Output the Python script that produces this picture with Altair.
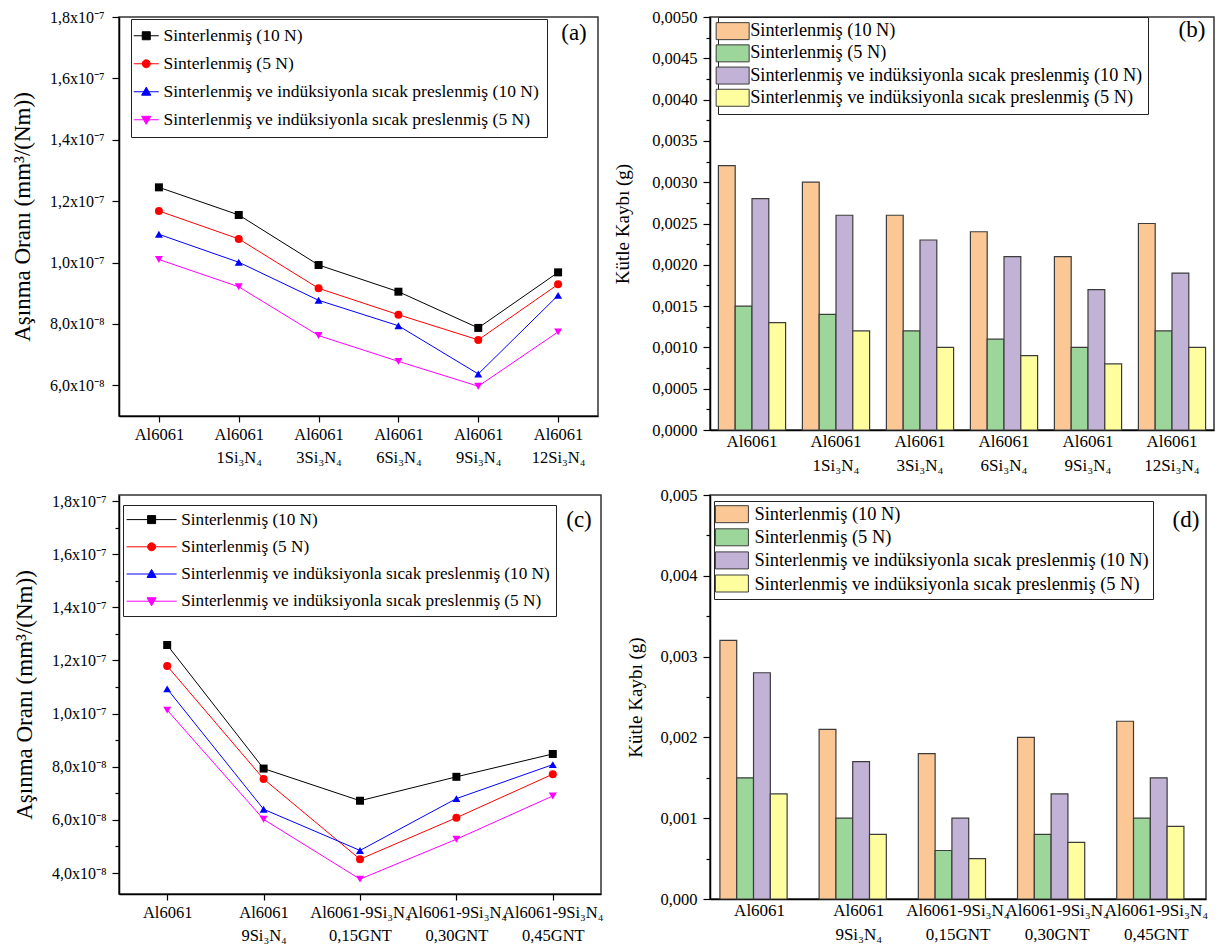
import altair as alt
import pandas as pd

FONT = "Liberation Serif"

SERIES = [
    "Sinterlenmiş (10 N)",
    "Sinterlenmiş (5 N)",
    "Sinterlenmiş ve indüksiyonla sıcak preslenmiş (10 N)",
    "Sinterlenmiş ve indüksiyonla sıcak preslenmiş (5 N)",
]
LINE_COLORS = ["#000000", "#FF0000", "#0000FF", "#FF00FF"]
LINE_SHAPES = ["square", "circle", "triangle-up", "triangle-down"]
BAR_COLORS = ["#FBC794", "#9DD69A", "#C2B2D6", "#FFFE9E"]

CATS_AB = ["Al6061", "Al6061|1Si₃N₄", "Al6061|3Si₃N₄", "Al6061|6Si₃N₄", "Al6061|9Si₃N₄", "Al6061|12Si₃N₄"]
CATS_CD = ["Al6061", "Al6061|9Si₃N₄", "Al6061-9Si₃N₄|0,15GNT", "Al6061-9Si₃N₄|0,30GNT", "Al6061-9Si₃N₄|0,45GNT"]

# (a) wear rate, mm3/(Nm)
A_SINT_10 = [1.245e-7, 1.155e-7, 0.992e-7, 0.905e-7, 0.787e-7, 0.968e-7]
A_SINT_5 = [1.168e-7, 1.077e-7, 0.916e-7, 0.830e-7, 0.748e-7, 0.929e-7]
A_HP_10 = [1.092e-7, 1.001e-7, 0.877e-7, 0.794e-7, 0.637e-7, 0.893e-7]
A_HP_5 = [1.010e-7, 0.921e-7, 0.762e-7, 0.678e-7, 0.597e-7, 0.774e-7]

# (b) mass loss, g
B_SINT_10 = [0.0032, 0.0030, 0.0026, 0.0024, 0.0021, 0.0025]
B_SINT_5 = [0.0015, 0.0014, 0.0012, 0.0011, 0.0010, 0.0012]
B_HP_10 = [0.0028, 0.0026, 0.0023, 0.0021, 0.0017, 0.0019]
B_HP_5 = [0.0013, 0.0012, 0.0010, 0.0009, 0.0008, 0.0010]

# (c) wear rate, mm3/(Nm)
C_SINT_10 = [1.258e-7, 0.793e-7, 0.672e-7, 0.762e-7, 0.848e-7]
C_SINT_5 = [1.179e-7, 0.754e-7, 0.452e-7, 0.608e-7, 0.772e-7]
C_HP_10 = [1.093e-7, 0.640e-7, 0.485e-7, 0.680e-7, 0.808e-7]
C_HP_5 = [1.013e-7, 0.602e-7, 0.377e-7, 0.527e-7, 0.690e-7]

# (d) mass loss, g
D_SINT_10 = [0.0032, 0.0021, 0.0018, 0.0020, 0.0022]
D_SINT_5 = [0.0015, 0.0010, 0.0006, 0.0008, 0.0010]
D_HP_10 = [0.0028, 0.0017, 0.0010, 0.0013, 0.0015]
D_HP_5 = [0.0013, 0.0008, 0.0005, 0.0007, 0.0009]

A_TICKS = [6e-8, 8e-8, 1.0e-7, 1.2e-7, 1.4e-7, 1.6e-7, 1.8e-7]
A_TICK_LABELS = ["6,0x10⁻⁸", "8,0x10⁻⁸", "1,0x10⁻⁷", "1,2x10⁻⁷", "1,4x10⁻⁷", "1,6x10⁻⁷", "1,8x10⁻⁷"]

C_TICKS = [4e-8, 5e-8, 6e-8, 7e-8, 8e-8, 9e-8, 1.0e-7, 1.1e-7, 1.2e-7, 1.3e-7, 1.4e-7, 1.5e-7, 1.6e-7, 1.7e-7, 1.8e-7]
C_TICK_LABELS = ["4,0x10⁻⁸", "", "6,0x10⁻⁸", "", "8,0x10⁻⁸", "", "1,0x10⁻⁷", "", "1,2x10⁻⁷", "",
                 "1,4x10⁻⁷", "", "1,6x10⁻⁷", "", "1,8x10⁻⁷"]

B_TICKS = [0.0, 0.00025, 0.0005, 0.00075, 0.001, 0.00125, 0.0015, 0.00175, 0.002, 0.00225, 0.0025,
           0.00275, 0.003, 0.00325, 0.0035, 0.00375, 0.004, 0.00425, 0.0045, 0.00475, 0.005]
B_TICK_LABELS = ["0,0000", "", "0,0005", "", "0,0010", "", "0,0015", "", "0,0020", "", "0,0025", "",
                 "0,0030", "", "0,0035", "", "0,0040", "", "0,0045", "", "0,0050"]

D_TICKS = [0.0, 0.0005, 0.001, 0.0015, 0.002, 0.0025, 0.003, 0.0035, 0.004, 0.0045, 0.005]
D_TICK_LABELS = ["0,000", "", "0,001", "", "0,002", "", "0,003", "", "0,004", "", "0,005"]


def label_expr(ticks, labels, k):
    parts = []
    for v, lab in zip(ticks, labels):
        if lab:
            parts.append(f"round(datum.value*{k})=={round(v * k)} ? '{lab}' : ")
    return "".join(parts) + "''"


def major_test(ticks, labels, k):
    keys = [str(round(v * k)) for v, lab in zip(ticks, labels) if lab]
    return f"indexof([{','.join(keys)}], round(datum.value*{k})) >= 0"


def make_df(cats, series_vals):
    rows = []
    for s, vals in zip(SERIES, series_vals):
        for i, (c, v) in enumerate(zip(cats, vals)):
            rows.append({"cat": c, "series": s, "value": v, "idx": i})
    return pd.DataFrame(rows)


SYM_S = 8.0  # half of sqrt(symbolSize) for line legends


def legend_paths(half_len, r):
    L = half_len / SYM_S
    u = r / SYM_S
    t = 1.15 * u
    line = f"M{-L:.3f},0H{L:.3f}"
    return [
        f"{line}M{-u:.3f},{-u:.3f}H{u:.3f}V{u:.3f}H{-u:.3f}Z",
        f"{line}M{-u:.3f},0A{u:.3f},{u:.3f},0,1,1,{u:.3f},0A{u:.3f},{u:.3f},0,1,1,{-u:.3f},0Z",
        f"{line}M0,{-t:.3f}L{t:.3f},{0.75 * t:.3f}L{-t:.3f},{0.75 * t:.3f}Z",
        f"{line}M0,{t:.3f}L{t:.3f},{-0.75 * t:.3f}L{-t:.3f},{-0.75 * t:.3f}Z",
    ]


def tag_layer(tag, tx, ty):
    return alt.Chart(pd.DataFrame({"tag": [tag]})).mark_text(
        font=FONT, fontSize=23, align="center", baseline="middle", color="black"
    ).encode(text="tag:N", x=alt.value(tx), y=alt.value(ty))


def line_panel(cats, series_vals, ticks, labels, k, y_domain, width, height,
               extent, title_pad, label_pad, leg, tag, tx, ty):
    df = make_df(cats, series_vals)
    base = alt.Chart(df)
    x = alt.X("cat:N", sort=cats, scale=alt.Scale(type="point", padding=0.5),
              axis=alt.Axis(title=None, labelExpr="split(datum.value, '|')", labelAngle=0,
                            labelFontSize=16.5, labelPadding=4, tickSize=6, labelLineHeight=23,
                            labelOverlap=False, labelBound=False))
    y = alt.Y("value:Q", scale=alt.Scale(domain=y_domain, nice=False, zero=False),
              axis=alt.Axis(values=ticks, labelExpr=label_expr(ticks, labels, k),
                            tickSize={"condition": {"test": major_test(ticks, labels, k), "value": 7}, "value": 4},
                            title="Aşınma Oranı (mm³/(Nm))", titleFontSize=23, labelFontSize=16,
                            labelPadding=label_pad, minExtent=extent, maxExtent=extent,
                            titlePadding=title_pad, labelOverlap=False))
    color = alt.Color("series:N", scale=alt.Scale(domain=SERIES, range=LINE_COLORS), legend=None)
    lines = base.mark_line(strokeWidth=1).encode(x=x, y=y, color=color, order="idx:Q")
    pts = base.mark_point(filled=True, size=64, opacity=1).encode(
        x=x, y=y, color=color,
        shape=alt.Shape("series:N", scale=alt.Scale(domain=SERIES, range=LINE_SHAPES), legend=None))
    lg = alt.Legend(title=None, orient="none", legendX=leg["x"], legendY=leg["y"],
                    labelFontSize=leg["font"], labelLimit=700, symbolSize=(2 * SYM_S) ** 2,
                    symbolStrokeWidth=1, rowPadding=leg["row"], labelOffset=leg["lo"],
                    symbolOffset=leg["so"], padding=leg["pad"], strokeColor="#222",
                    fillColor="white")
    legl = base.transform_filter("false").mark_point(filled=False, opacity=1).encode(
        x=x, y=y,
        fill=alt.Fill("series:N", scale=alt.Scale(domain=SERIES, range=LINE_COLORS), legend=lg),
        stroke=alt.Stroke("series:N", scale=alt.Scale(domain=SERIES, range=LINE_COLORS), legend=lg),
        shape=alt.Shape("series:N", scale=alt.Scale(domain=SERIES, range=legend_paths(leg["half"], 4)),
                        legend=lg))
    return alt.layer(lines, pts, legl, tag_layer(tag, tx, ty)).resolve_scale(
        shape="independent", fill="independent", stroke="independent"
    ).properties(width=width, height=height)


BAR_S = 8.5
RECT_PATH = f"M{-16.5 / BAR_S:.3f},-1H{16.5 / BAR_S:.3f}V1H{-16.5 / BAR_S:.3f}Z"


def bar_panel(cats, series_vals, ticks, labels, k, width, height, extent, title_pad,
              leg, tag, tx, ty):
    df = make_df(cats, series_vals)
    lg = alt.Legend(title=None, orient="none", legendX=leg["x"], legendY=leg["y"],
                    labelFontSize=leg["font"], labelLimit=700, symbolType=RECT_PATH,
                    symbolSize=(2 * BAR_S) ** 2, symbolStrokeWidth=1, rowPadding=leg["row"],
                    labelOffset=leg["lo"], symbolOffset=leg["so"], padding=leg["pad"],
                    strokeColor="#222", fillColor="white")
    bars = alt.Chart(df).mark_bar(stroke="#3c3c3c", strokeWidth=1.2).encode(
        x=alt.X("cat:N", sort=cats, scale=alt.Scale(paddingInner=0.2, paddingOuter=0.1),
                axis=alt.Axis(title=None, labelExpr="split(datum.value, '|')", labelAngle=0,
                              ticks=False, labelPadding=3, labelFontSize=17, labelLineHeight=24,
                              labelOverlap=False, labelBound=False)),
        xOffset=alt.XOffset("series:N", sort=SERIES, scale=alt.Scale(domain=SERIES)),
        y=alt.Y("value:Q", scale=alt.Scale(domain=[0, 0.005], nice=False),
                axis=alt.Axis(values=ticks, labelExpr=label_expr(ticks, labels, k),
                              tickSize={"condition": {"test": major_test(ticks, labels, k), "value": 7}, "value": 4},
                              title="Kütle Kaybı (g)", titleFontSize=19, labelFontSize=16.5,
                              labelPadding=6, minExtent=extent, maxExtent=extent,
                              titlePadding=title_pad, labelOverlap=False)),
        color=alt.Color("series:N", scale=alt.Scale(domain=SERIES, range=BAR_COLORS), legend=lg),
    )
    return alt.layer(bars, tag_layer(tag, tx, ty)).properties(width=width, height=height)


pa = line_panel(CATS_AB, [A_SINT_10, A_SINT_5, A_HP_10, A_HP_5], A_TICKS, A_TICK_LABELS, 1e9,
                [5.0e-8, 1.8e-7], 479, 399, 75, 10, 8,
                {"x": 12, "y": 2, "font": 17.5, "row": 9, "lo": 8.5, "so": -1.5, "pad": 8, "half": 12.5},
                "(a)", 455, 16)
pb = bar_panel(CATS_AB, [B_SINT_10, B_SINT_5, B_HP_10, B_HP_5], B_TICKS, B_TICK_LABELS, 1e5,
               504, 413, 64, 14,
               {"x": 8, "y": 0, "font": 18.3, "row": 0.2, "lo": 8.4, "so": 0.5, "pad": 5},
               "(b)", 482, 13)
pc = line_panel(CATS_CD, [C_SINT_10, C_SINT_5, C_HP_10, C_HP_5], C_TICKS, C_TICK_LABELS, 1e9,
                [3.21e-8, 1.8226e-7], 482, 399, 78, 5, 6,
                {"x": 4, "y": 10, "font": 17.2, "row": 9.2, "lo": 21, "so": 14, "pad": 6, "half": 25},
                "(c)", 460, 25)
pd_ = bar_panel(CATS_CD, [D_SINT_10, D_SINT_5, D_HP_10, D_HP_5], D_TICKS, D_TICK_LABELS, 1e4,
                496, 404, 60, 5,
                {"x": 4, "y": 6, "font": 18.4, "row": 1.1, "lo": 13.3, "so": 4.7, "pad": 4},
                "(d)", 476, 25)

chart = alt.concat(
    pa, pb, pc, pd_, columns=2, spacing={"row": 65, "column": 109}, bounds="flush",
    align={"row": "each", "column": "none"}
).resolve_scale(
    color="independent", shape="independent", fill="independent", stroke="independent"
).properties(
    padding={"left": 2, "top": 0, "right": 5, "bottom": 5}
).configure_view(
    stroke="#333333", strokeWidth=1.5
).configure_axis(
    labelFont=FONT, titleFont=FONT, labelColor="black", titleColor="black", domainColor="black",
    domainWidth=1.5, tickColor="black", tickWidth=1.2, titleFontWeight="normal", grid=False
).configure_legend(
    labelFont=FONT, labelColor="black"
).configure_text(font=FONT)

chart.save("out.html", embed_options={"renderer": "svg", "actions": False})
